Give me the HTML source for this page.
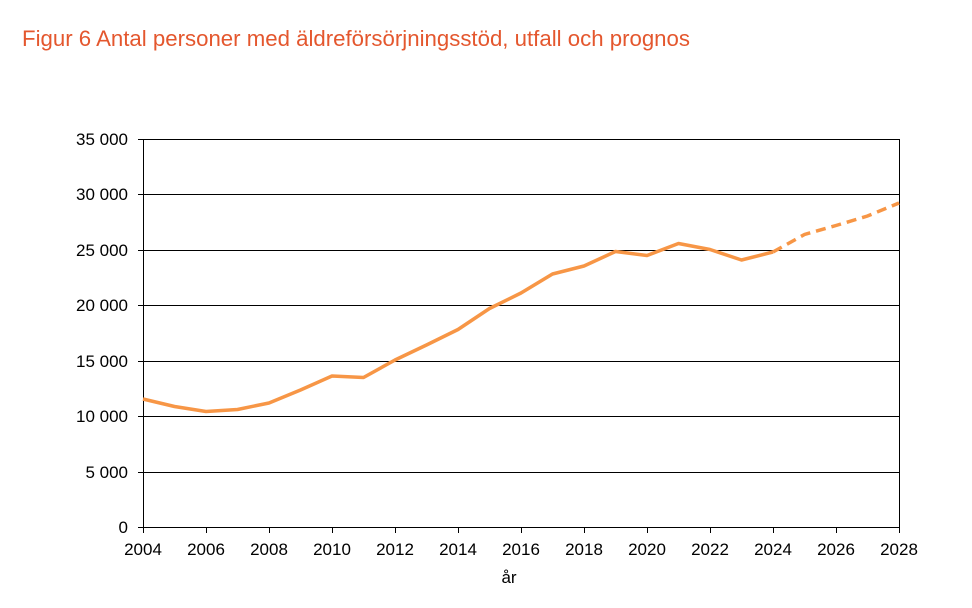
<!DOCTYPE html>
<html><head><meta charset="utf-8"><style>
body{margin:0;background:#fff;}
svg text{font-family:"Liberation Sans",sans-serif;}
</style></head><body>
<svg width="972" height="603" xmlns="http://www.w3.org/2000/svg">
<text x="22" y="46" font-size="22" fill="#e4572e" style="font-family:'Liberation Sans Narrow','Liberation Sans',sans-serif" textLength="668" lengthAdjust="spacingAndGlyphs">Figur 6 Antal personer med äldreförsörjningsstöd, utfall och prognos</text>
<g stroke="#000" stroke-width="1">
<line x1="143" y1="139.5" x2="899" y2="139.5"/>
<line x1="143" y1="194.5" x2="899" y2="194.5"/>
<line x1="143" y1="250.5" x2="899" y2="250.5"/>
<line x1="143" y1="305.5" x2="899" y2="305.5"/>
<line x1="143" y1="361.5" x2="899" y2="361.5"/>
<line x1="143" y1="416.5" x2="899" y2="416.5"/>
<line x1="143" y1="472.5" x2="899" y2="472.5"/>
<line x1="143" y1="527.5" x2="899" y2="527.5"/>
<line x1="143.5" y1="139" x2="143.5" y2="533"/>
<line x1="899.5" y1="139" x2="899.5" y2="527"/>
<line x1="138" y1="139.5" x2="143" y2="139.5"/><line x1="138" y1="194.5" x2="143" y2="194.5"/><line x1="138" y1="250.5" x2="143" y2="250.5"/><line x1="138" y1="305.5" x2="143" y2="305.5"/><line x1="138" y1="361.5" x2="143" y2="361.5"/><line x1="138" y1="416.5" x2="143" y2="416.5"/><line x1="138" y1="472.5" x2="143" y2="472.5"/><line x1="138" y1="527.5" x2="143" y2="527.5"/>
<line x1="206.5" y1="527" x2="206.5" y2="533"/><line x1="269.5" y1="527" x2="269.5" y2="533"/><line x1="332.5" y1="527" x2="332.5" y2="533"/><line x1="395.5" y1="527" x2="395.5" y2="533"/><line x1="458.5" y1="527" x2="458.5" y2="533"/><line x1="521.5" y1="527" x2="521.5" y2="533"/><line x1="584.5" y1="527" x2="584.5" y2="533"/><line x1="647.5" y1="527" x2="647.5" y2="533"/><line x1="710.5" y1="527" x2="710.5" y2="533"/><line x1="773.5" y1="527" x2="773.5" y2="533"/><line x1="836.5" y1="527" x2="836.5" y2="533"/><line x1="899.5" y1="527" x2="899.5" y2="533"/>
</g>
<g font-size="17" fill="#000" text-anchor="end">
<text x="128" y="145">35 000</text><text x="128" y="200">30 000</text><text x="128" y="256">25 000</text><text x="128" y="311">20 000</text><text x="128" y="367">15 000</text><text x="128" y="422">10 000</text><text x="128" y="478">5 000</text><text x="128" y="533">0</text>
</g>
<g font-size="17" fill="#000" text-anchor="middle">
<text x="143" y="555">2004</text><text x="206" y="555">2006</text><text x="269" y="555">2008</text><text x="332" y="555">2010</text><text x="395" y="555">2012</text><text x="458" y="555">2014</text><text x="521" y="555">2016</text><text x="584" y="555">2018</text><text x="647" y="555">2020</text><text x="710" y="555">2022</text><text x="773" y="555">2024</text><text x="836" y="555">2026</text><text x="899" y="555">2028</text>
<text x="509" y="583">år</text>
</g>
<polyline fill="none" stroke="#f79646" stroke-width="3.5" stroke-linejoin="round" points="143,399 174.5,406.5 206,411.5 237.5,409.5 269,403 300.5,390 332,376 363.5,377.5 395,360 426.5,345 458,329.5 489.5,308.5 521,293 552.5,274 584,266 615.5,251.5 647,255.5 678.5,243.5 710,249.5 741.5,260 773,252"/>
<polyline fill="none" stroke="#f79646" stroke-width="3.5" stroke-dasharray="10,6" points="773,252 804.5,234.5 836,225.5 867.5,216 899,203"/>
</svg>
</body></html>
